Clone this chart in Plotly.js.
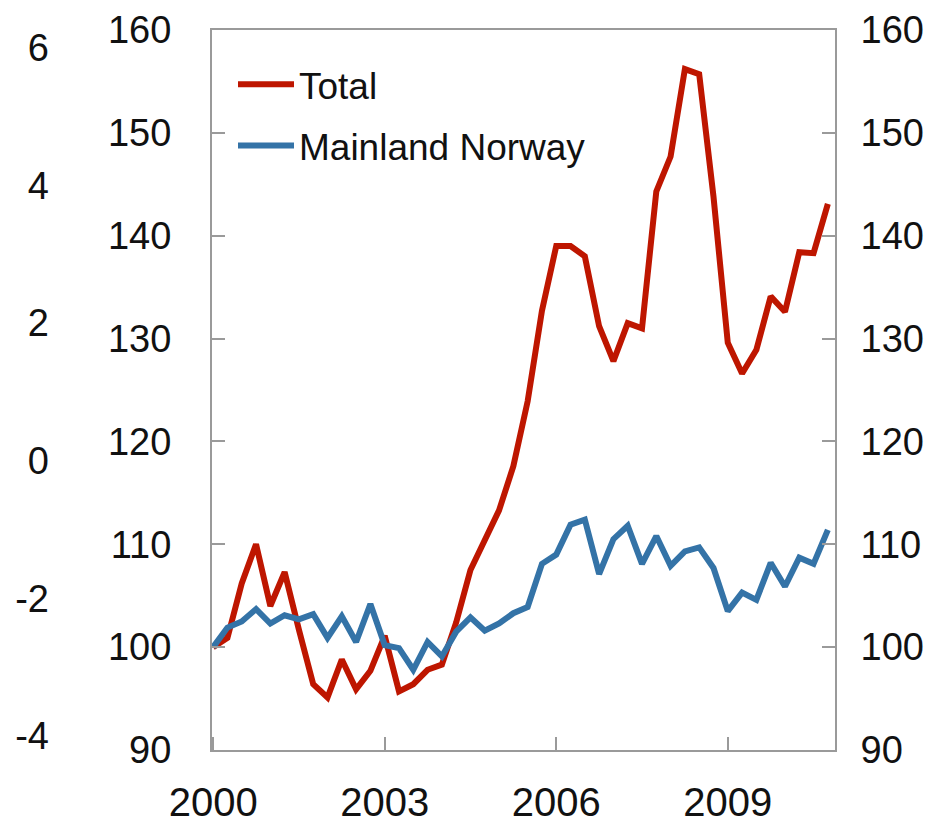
<!DOCTYPE html>
<html>
<head>
<meta charset="utf-8">
<script src="https://cdn.plot.ly/plotly-3.0.1.min.js"></script>
<style>html,body{margin:0;padding:0;background:#fff;}#chart{width:946px;height:824px;}</style>
</head>
<body>
<div id="chart"></div>
<script>
// Quarterly index, 2000Q1 = 100
var startYear = 2000;
var seriesNames = ['Total', 'Mainland Norway'];
var total = [
  100.0, 100.9, 106.2, 110.0,
  104.0, 107.3, 101.7, 96.4,
  95.1, 98.8, 95.9, 97.7,
  101.1, 95.7, 96.4, 97.8,
  98.3, 102.4, 107.5, 110.5,
  113.3, 117.6, 123.9, 132.7,
  139.0, 139.0, 138.0, 131.2,
  127.8, 131.5, 131.0, 144.3,
  147.7, 156.2, 155.7, 143.8,
  129.6, 126.6, 128.9, 134.1,
  132.6, 138.4, 138.3, 143.1
];
var mainland = [
  100.0, 101.9, 102.5, 103.7,
  102.3, 103.1, 102.7, 103.2,
  100.9, 103.0, 100.5, 104.2,
  100.2, 99.9, 97.8, 100.5,
  99.1, 101.5, 102.9, 101.6,
  102.3, 103.3, 103.9, 108.1,
  109.0, 111.9, 112.4, 107.1,
  110.5, 111.8, 108.1, 110.8,
  107.9, 109.3, 109.7, 107.7,
  103.5, 105.3, 104.6, 108.2,
  105.9, 108.7, 108.1, 111.4
];
var xTickVals = [2000, 2003, 2006, 2009];
var xTickText = ['2000', '2003', '2006', '2009'];
var yTickVals = [90, 100, 110, 120, 130, 140, 150, 160];
var outerTickVals = [-4, -2, 0, 2, 4, 6];
var outerTickText = ['-4', '-2', '0', '2', '4', '6'];

// quarter positions on a numeric year axis
var xq = total.map(function (_, i) { return startYear + i / 4; });

var FONT = 'Liberation Sans, Arial, sans-serif';
var GREY = '#9a9a9a';
var FS = 37;

var traces = [
  {x: xq, y: total, name: seriesNames[0], type: 'scatter', mode: 'lines',
   line: {color: '#BE1600', width: 6}, legendgroup: 'a', hoverinfo: 'x+y'},
  {x: xq, y: mainland, name: seriesNames[1], type: 'scatter', mode: 'lines',
   line: {color: '#3473A7', width: 6}, legendgroup: 'b', hoverinfo: 'x+y'},
  {x: [], y: [], yaxis: 'y2', showlegend: false, hoverinfo: 'skip'},
  {x: [], y: [], yaxis: 'y3', showlegend: false, hoverinfo: 'skip'}
];

var W = 946, ML = 10, MR = 10;
var pw = W - ML - MR;
var layout = {
  width: 946, height: 824,
  margin: {l: ML, r: MR, t: 30, b: 74, pad: 0},
  paper_bgcolor: '#fff', plot_bgcolor: '#fff',
  font: {family: FONT, size: FS, color: '#111'},
  showlegend: true,
  legend: {x: (233 - ML) / pw, y: 0.967, xanchor: 'left', yanchor: 'top',
           bgcolor: 'rgba(0,0,0,0)', borderwidth: 0, itemwidth: 56,
           tracegroupgap: 10, font: {family: FONT, size: FS, color: '#111'}},
  xaxis: {
    domain: [(212 - ML) / pw, (835 - ML) / pw],
    range: [1999.98, 2010.875],
    tickmode: 'array', tickvals: xTickVals, ticktext: xTickText,
    ticks: 'inside', ticklen: 13, tickwidth: 2, tickcolor: GREY,
    showline: true, linecolor: GREY, linewidth: 2, mirror: true,
    showgrid: false, zeroline: false, ticklabelstandoff: 16,
    tickfont: {family: FONT, size: 40, color: '#111'}
  },
  yaxis: {
    range: [90, 160], tickmode: 'array', tickvals: yTickVals,
    ticks: 'inside', ticklen: 13, tickwidth: 2, tickcolor: GREY,
    showline: true, linecolor: GREY, linewidth: 2,
    showgrid: false, zeroline: false, ticklabelstandoff: 31,
    tickfont: {family: FONT, size: 38, color: '#111'}
  },
  yaxis2: {
    overlaying: 'y', side: 'right', anchor: 'x',
    range: [90, 160], tickmode: 'array', tickvals: yTickVals,
    ticks: 'inside', ticklen: 13, tickwidth: 2, tickcolor: GREY,
    showline: true, linecolor: GREY, linewidth: 2,
    showgrid: false, zeroline: false, ticklabelstandoff: 16,
    tickfont: {family: FONT, size: 38, color: '#111'}
  },
  yaxis3: {
    overlaying: 'y', side: 'left', anchor: 'free', position: (49 - ML) / pw,
    range: [-4.203, 6.254], tickmode: 'array', tickvals: outerTickVals, ticktext: outerTickText,
    ticks: '', showline: false,
    showgrid: false, zeroline: false,
    tickfont: {family: FONT, size: 38, color: '#111'}
  }
};

Plotly.newPlot('chart', traces, layout, {displayModeBar: false, staticPlot: true});
</script>
</body>
</html>
